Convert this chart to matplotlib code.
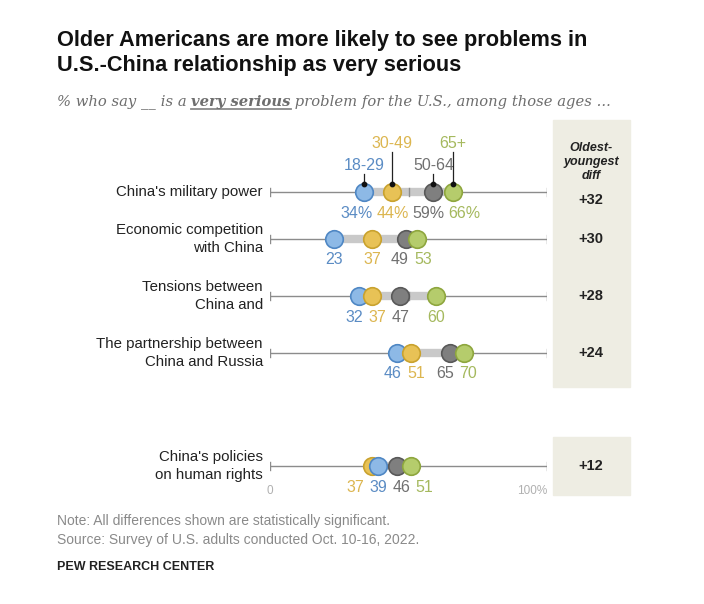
import numpy as np
import matplotlib as mpl
import matplotlib.pyplot as plt
from matplotlib.patches import Rectangle

mpl.rc('font', family=['Liberation Sans', 'DejaVu Sans'])

# data
categories = ["China's military power",
              "Economic competition\nwith China",
              "Tensions between\nChina and",
              "The partnership between\nChina and Russia",
              "China's policies\non human rights"]
ages = ['18-29', '30-49', '50-64', '65+']
age_18_29 = [34, 23, 32, 46, 39]
age_30_49 = [44, 37, 37, 51, 37]
age_50_64 = [59, 49, 47, 65, 46]
age_65_up = [66, 53, 60, 70, 51]
diffs = ['+32', '+30', '+28', '+24', '+12']

fill = ['#8db9e6', '#e8c256', '#7f7f7f', '#b5cc6c']
edge = ['#4f87c4', '#c9a22e', '#595959', '#8ea63e']
txtcol = ['#5b8cc4', '#dcb650', '#707070', '#a5b95e']

# vertical positions of the rows (pixels from top)
rows_y = [192, 239, 296, 353, 466]

W, H = 704, 604
fig = plt.figure(figsize=(W / 100, H / 100), dpi=100)
x0, x1 = 270, 547
ax = fig.add_axes([x0 / W, 0, (x1 - x0) / W, 1])
ax.set_xlim(0, 100)
ax.set_ylim(H, 0)
ax.axis('off')
px = 100 / (x1 - x0)  # data units per pixel


def spread(vals, gap):
    # push labels apart so they don't overlap
    pos = np.array(vals, dtype=float)
    order = np.argsort(pos)
    p = pos[order]
    for _ in range(200):
        moved = False
        for i in range(len(p) - 1):
            d = p[i + 1] - p[i]
            if d < gap - 1e-6:
                s = (gap - d) / 2
                p[i] -= s
                p[i + 1] += s
                moved = True
        if not moved:
            break
    out = np.empty_like(p)
    out[order] = p
    return out


series = np.array([age_18_29, age_30_49, age_50_64, age_65_up])

for r, y in enumerate(rows_y):
    vals = series[:, r]
    # axis line with caps
    ax.plot([0, 100], [y, y], color='#8c8c8c', lw=1, zorder=1)
    for t in (0, 100):
        ax.plot([t, t], [y - 4, y + 4], color='#8c8c8c', lw=1, zorder=3)
    # range band
    ax.plot([vals.min(), vals.max()], [y, y], color='#c9c9c9', lw=6,
            solid_capstyle='butt', zorder=2)
    ax.plot([50, 50], [y - 4, y + 4], color='#8c8c8c', lw=1, zorder=3)
    ranks = np.argsort(np.argsort(vals))
    for k in range(4):
        ax.scatter(vals[k], y, s=160, color=fill[k], edgecolor=edge[k],
                   linewidth=1.2, zorder=5 + ranks[k])
    suffix = '%' if r == 0 else ''
    gap = (36 if r == 0 else 23) * px
    lx = spread(vals, gap)
    for k in range(4):
        ax.text(lx[k], y + 21, f'{vals[k]}{suffix}', color=txtcol[k],
                fontsize=11.5, ha='center', va='center')
    # category label
    ax.text(-2.6, y, categories[r], ha='right', va='center', fontsize=10.8,
            color='#222222', linespacing=1.3, clip_on=False)

# age labels with leader lines on first row
y = rows_y[0]
label_y = [165, 143, 165, 143]
for k in range(4):
    v = series[k, 0]
    ax.plot([v, v], [label_y[k] + 9, y - 8], color='#222222', lw=0.9, zorder=9)
    ax.scatter(v, y - 8, s=10, color='#111111', zorder=10)
    ax.text(v, label_y[k], ages[k], color=txtcol[k], fontsize=11.5,
            ha='center', va='center')

# axis end labels
ax.text(0, 491, '0', color='#b0b0b0', fontsize=8.5, ha='center', va='center')
ax.text(100, 491, '100%', color='#b0b0b0', fontsize=8.5, ha='right', va='center')

# diff panels
beige = '#eeede3'
fig.patches.append(Rectangle((553 / W, 1 - 387 / H), 77 / W, 267 / H,
                             transform=fig.transFigure, color=beige, zorder=0))
fig.patches.append(Rectangle((553 / W, 1 - 495 / H), 77 / W, 58 / H,
                             transform=fig.transFigure, color=beige, zorder=0))
fig.text(591 / W, 1 - 162 / H, 'Oldest-\nyoungest\ndiff', ha='center',
         va='center', fontsize=9, fontweight='bold', style='italic',
         color='#222222', linespacing=1.2)
for r, y in enumerate(rows_y):
    fig.text(591 / W, 1 - max(y, 200) / H, diffs[r], ha='center', va='center',
             fontsize=10.5, fontweight='bold', color='#222222')

# title
fig.text(57 / W, 1 - 53 / H,
         'Older Americans are more likely to see problems in\nU.S.-China relationship as very serious',
         ha='left', va='center', fontsize=15.7, fontweight='bold',
         color='#111111', linespacing=1.22)

# subtitle built from pieces
renderer = fig.canvas.get_renderer()
pieces = [('% who say ', 'normal', False), ('__', 'normal', False),
          (' is a ', 'normal', False), ('very serious', 'bold', True),
          (' problem for the U.S., among those ages ...', 'normal', False)]
cx = 57
sy = 1 - 106 / H
for txt, wt, under in pieces:
    t = fig.text(cx / W, sy, txt, ha='left', va='baseline', fontsize=10.6,
                 style='italic', fontweight=wt, color='#6e6e6e',
                 family='DejaVu Serif')
    bb = t.get_window_extent(renderer)
    if under:
        fig.add_artist(plt.Line2D([bb.x0 / W, bb.x1 / W],
                                  [sy - 3 / H, sy - 3 / H],
                                  transform=fig.transFigure,
                                  color='#8a8a8a', lw=1.3))
    cx = bb.x1

# footer
fig.text(57 / W, 1 - 521 / H, 'Note: All differences shown are statistically significant.',
         fontsize=10, color='#8a8a8a', va='center')
fig.text(57 / W, 1 - 540 / H, 'Source: Survey of U.S. adults conducted Oct. 10-16, 2022.',
         fontsize=10, color='#8a8a8a', va='center')
fig.text(57 / W, 1 - 567 / H, 'PEW RESEARCH CENTER', fontsize=9,
         fontweight='bold', color='#222222', va='center')

plt.savefig('out.png', dpi=100)
